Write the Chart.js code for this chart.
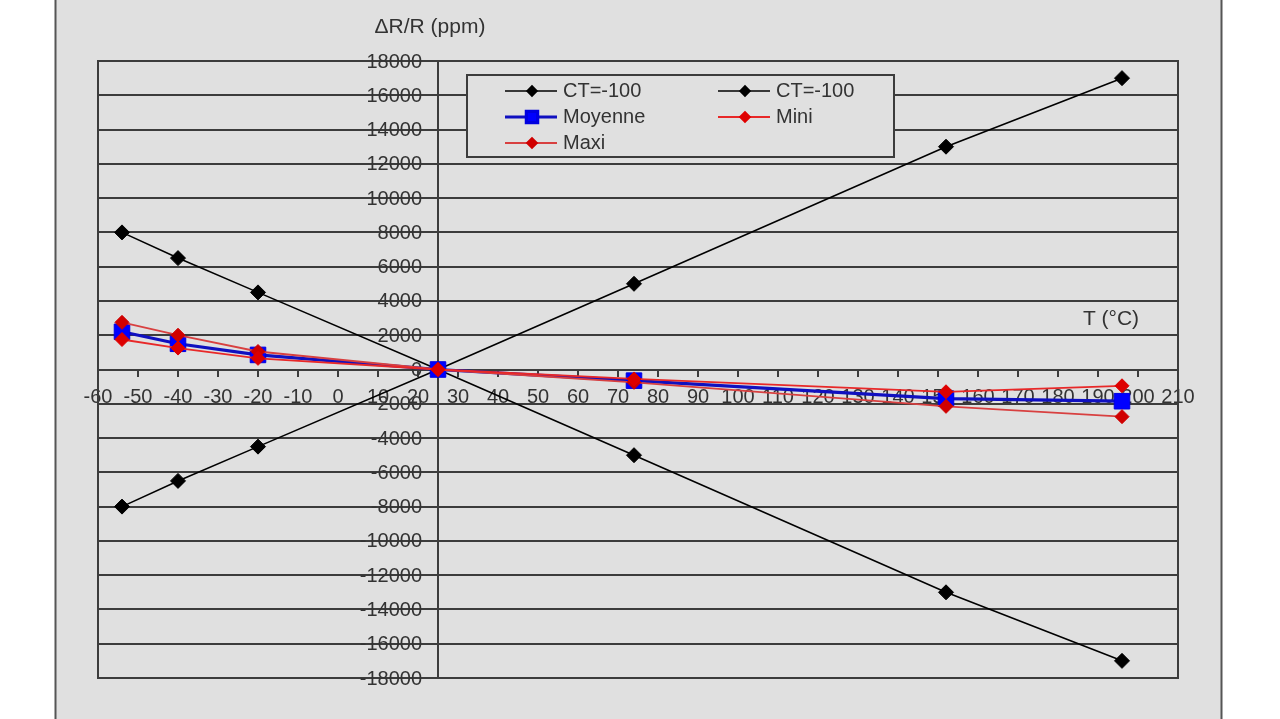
<!DOCTYPE html>
<html><head><meta charset="utf-8">
<script src="https://cdn.jsdelivr.net/npm/chart.js@4.4.1/dist/chart.umd.min.js"></script>
<style>html,body{margin:0;padding:0;background:#fff;overflow:hidden}canvas{display:block}</style>
</head><body>
<canvas id="c" width="1280" height="719"></canvas>
<script>
// ---- data ----
const temperatures = [-54, -40, -20, 25, 74, 152, 196];
const ctRising  = [-8000, -6500, -4500, 0, 5000, 13000, 17000];
const ctFalling = [8000, 6500, 4500, 0, -5000, -13000, -17000];
const moyenne   = [2200, 1500, 850, 0, -650, -1700, -1850];
const mini      = [1750, 1250, 650, 0, -550, -1300, -950];
const maxi      = [2750, 2000, 1050, 0, -750, -2150, -2750];
const seriesLabels = ['CT=-100', 'CT=-100', 'Moyenne', 'Mini', 'Maxi'];
const xAxisTitle = 'T (°C)';
const yAxisTitle = 'ΔR/R (ppm)';
const xMin = -60, xMax = 210, xStep = 10;
const yMin = -18000, yMax = 18000, yStep = 2000;
const yAxisCrossesAt = 25;   // vertical axis drawn at T = 25
const xAxisCrossesAt = 0;    // horizontal axis drawn at ΔR/R = 0

const FONT = "'Liberation Sans', Arial, sans-serif";
const GRID = '#3c3c3c';
const BG = '#e0e0e0';
const TXT = '#333333';

function pts(ys){ return temperatures.map((t,i)=>({x:t, y:ys[i]})); }

const datasets = [
  {label: seriesLabels[0], data: pts(ctFalling), borderColor:'#000', backgroundColor:'#000', borderWidth:1.6,
   pointStyle:'rectRot', pointRadius:7.5, pointBorderWidth:1, order:3, legendRadius:5},
  {label: seriesLabels[1], data: pts(ctRising), borderColor:'#000', backgroundColor:'#000', borderWidth:1.6,
   pointStyle:'rectRot', pointRadius:7.5, pointBorderWidth:1, order:3, legendRadius:5},
  {label: seriesLabels[2], data: pts(moyenne), borderColor:'#1010c0', backgroundColor:'#0000ff', borderWidth:3.2,
   pointStyle:'rect', pointRadius:11, pointBorderWidth:1, pointBorderColor:'#0000e0', order:2, legendRadius:8},
  {label: seriesLabels[3], data: pts(mini), borderColor:'#e82828', backgroundColor:'#dd0000', borderWidth:1.8,
   pointStyle:'rectRot', pointRadius:7, pointBorderWidth:1, pointBorderColor:'#e00000', order:1, legendRadius:5},
  {label: seriesLabels[4], data: pts(maxi), borderColor:'#d84040', backgroundColor:'#d00000', borderWidth:1.8,
   pointStyle:'rectRot', pointRadius:7, pointBorderWidth:1, pointBorderColor:'#d00000', order:1, legendRadius:5}
];

const framePlugin = {
  id:'frame',
  beforeDraw(chart){
    const ctx = chart.ctx;
    ctx.save();
    ctx.fillStyle = '#fff';
    ctx.fillRect(0,0,chart.width,chart.height);
    ctx.fillStyle = BG;
    ctx.fillRect(56,0,1166,chart.height);
    ctx.strokeStyle = '#555';
    ctx.lineWidth = 2;
    ctx.beginPath();
    ctx.moveTo(55.5,0); ctx.lineTo(55.5,chart.height);
    ctx.moveTo(1221.5,0); ctx.lineTo(1221.5,chart.height);
    ctx.stroke();
    ctx.restore();
  },
  beforeDatasetsDraw(chart){
    const {ctx, chartArea:a} = chart;
    ctx.save();
    ctx.strokeStyle = GRID;
    ctx.lineWidth = 2;
    ctx.strokeRect(a.left, a.top, a.right-a.left, a.bottom-a.top);
    // y tick labels, right-aligned just left of the crossing vertical axis
    const ys = chart.scales.y, xs = chart.scales.x;
    const axX = xs.getPixelForValue(yAxisCrossesAt);
    ctx.fillStyle = TXT;
    ctx.font = '20px ' + FONT;
    ctx.textAlign = 'right';
    ctx.textBaseline = 'middle';
    ys.ticks.forEach(t => ctx.fillText(String(t.value), axX - 16, ys.getPixelForValue(t.value) + 1));
    // axis titles
    ctx.font = '21px ' + FONT;
    ctx.textAlign = 'center';
    ctx.fillText(yAxisTitle, 430, 27);
    ctx.fillText(xAxisTitle, 1111, 319);
    ctx.restore();
  },
  afterDatasetsDraw(chart){
    const ctx = chart.ctx;
    const box = {x:467, y:75, w:427, h:82};
    ctx.save();
    ctx.fillStyle = BG;
    ctx.fillRect(box.x, box.y, box.w, box.h);
    ctx.strokeStyle = GRID;
    ctx.lineWidth = 2;
    ctx.strokeRect(box.x, box.y, box.w, box.h);
    const colX = [505, 718], rowY = [91, 117, 143];
    chart.data.datasets.forEach((ds, i) => {
      const x = colX[i % 2], y = rowY[Math.floor(i / 2)];
      ctx.strokeStyle = ds.borderColor;
      ctx.lineWidth = ds.borderWidth;
      ctx.beginPath(); ctx.moveTo(x, y); ctx.lineTo(x + 52, y); ctx.stroke();
      ctx.fillStyle = ds.backgroundColor;
      ctx.strokeStyle = ds.pointBorderColor || ds.borderColor;
      Chart.helpers.drawPoint(ctx, {pointStyle: ds.pointStyle, radius: ds.legendRadius, rotation: 0, borderWidth: 1}, x + 27, y);
      ctx.fillStyle = TXT;
      ctx.font = '20px ' + FONT;
      ctx.textAlign = 'left';
      ctx.textBaseline = 'middle';
      ctx.fillText(ds.label, x + 58, y);
    });
    ctx.restore();
  }
};

new Chart(document.getElementById('c'), {
  type: 'line',
  data: { datasets },
  options: {
    responsive: false,
    animation: false,
    events: [],
    layout: { padding: { left: 98, right: 102, top: 61, bottom: 41 } },
    plugins: { legend: { display: false }, tooltip: { enabled: false } },
    scales: {
      x: {
        type: 'linear', min: xMin, max: xMax,
        position: { y: xAxisCrossesAt },
        afterFit(s){ s.height = 0; },
        grid: { drawOnChartArea: false, drawTicks: true, tickLength: 6, color: GRID, lineWidth: 2 },
        border: { display: true, color: GRID, width: 2 },
        ticks: { stepSize: xStep, autoSkip: false, maxRotation: 0, minRotation: 0, padding: 10,
                 color: TXT, font: { family: FONT, size: 20 }, callback: v => String(v) }
      },
      y: {
        type: 'linear', min: yMin, max: yMax,
        position: { x: yAxisCrossesAt },
        afterFit(s){ s.width = 0; },
        grid: { drawOnChartArea: true, drawTicks: true, tickLength: 5, color: GRID, lineWidth: 2 },
        border: { display: true, color: GRID, width: 2 },
        ticks: { display: false, stepSize: yStep, autoSkip: false, callback: v => String(v) }
      }
    }
  },
  plugins: [framePlugin]
});
</script>
</body></html>
